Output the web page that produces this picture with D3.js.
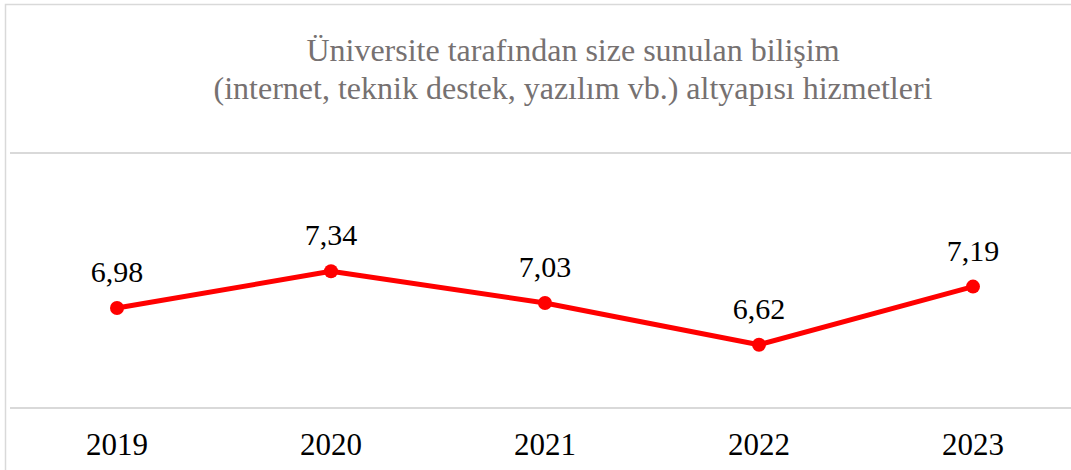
<!DOCTYPE html>
<html>
<head>
<meta charset="utf-8">
<script src="https://cdn.jsdelivr.net/npm/d3@7"></script>
<style>
  body { margin: 0; background: #fff; }
  svg { display: block; }
  text { font-family: "Liberation Serif", "Times New Roman", Times, "DejaVu Serif", serif; }
</style>
</head>
<body>
<svg id="chart"></svg>
<script>
// data
const years = ["2019", "2020", "2021", "2022", "2023"];
const scores = [6.98, 7.34, 7.03, 6.62, 7.19];
const titleLines = [
    "Üniversite tarafından size sunulan bilişim",
    "(internet, teknik destek, yazılım vb.) altyapısı hizmetleri"
];
const gridValues = [6, 8.5];

const width = 1071;
const height = 470;

const svg = d3.select("#chart")
    .attr("width", width)
    .attr("height", height);

// chart border (runs off the right and bottom edges in the original)
svg.append("rect")
    .attr("x", 5.5)
    .attr("y", 4.5)
    .attr("width", 1120)
    .attr("height", 520)
    .attr("fill", "#fff")
    .attr("stroke", "#d9d9d9")
    .attr("stroke-width", 1.5);

const x = d3.scaleBand()
    .domain(years)
    .range([10, 1080])
    .padding(0);

const y = d3.scaleLinear()
    .domain([6, 8.5])
    .range([408, 153]);

const cx = d => x(d) + x.bandwidth() / 2;

// title
svg.append("text")
    .attr("text-anchor", "middle")
    .style("font-size", "32px")
    .attr("fill", "#767171")
    .selectAll("tspan")
    .data(titleLines)
    .enter()
    .append("tspan")
    .attr("x", 573)
    .attr("y", (d, i) => 61 + i * 38)
    .text(d => d);

// gridlines
svg.append("g")
    .selectAll("line")
    .data(gridValues)
    .enter()
    .append("line")
    .attr("x1", 10)
    .attr("x2", 1100)
    .attr("y1", d => y(d))
    .attr("y2", d => y(d))
    .attr("stroke", "#d9d9d9")
    .attr("stroke-width", 2);

// x axis labels
svg.append("g")
    .selectAll("text")
    .data(years)
    .enter()
    .append("text")
    .attr("x", d => cx(d))
    .attr("y", 455)
    .attr("text-anchor", "middle")
    .style("font-size", "31px")
    .attr("fill", "#000")
    .text(d => d);

const points = years.map((yr, i) => ({ year: yr, value: scores[i] }));

const line = d3.line()
    .x(d => cx(d.year))
    .y(d => y(d.value));

svg.append("path")
    .datum(points)
    .attr("d", line)
    .attr("fill", "none")
    .attr("stroke", "#ff0000")
    .attr("stroke-width", 5)
    .attr("stroke-linejoin", "round");

svg.append("g")
    .selectAll("circle")
    .data(points)
    .enter()
    .append("circle")
    .attr("cx", d => cx(d.year))
    .attr("cy", d => y(d.value))
    .attr("r", 7)
    .attr("fill", "#ff0000");

// value labels
svg.append("g")
    .selectAll("text")
    .data(points)
    .enter()
    .append("text")
    .attr("x", d => cx(d.year))
    .attr("y", d => y(d.value) - 26)
    .attr("text-anchor", "middle")
    .style("font-size", "30px")
    .attr("fill", "#000")
    .text(d => d.value.toFixed(2).replace(".", ","));
</script>
</body>
</html>
